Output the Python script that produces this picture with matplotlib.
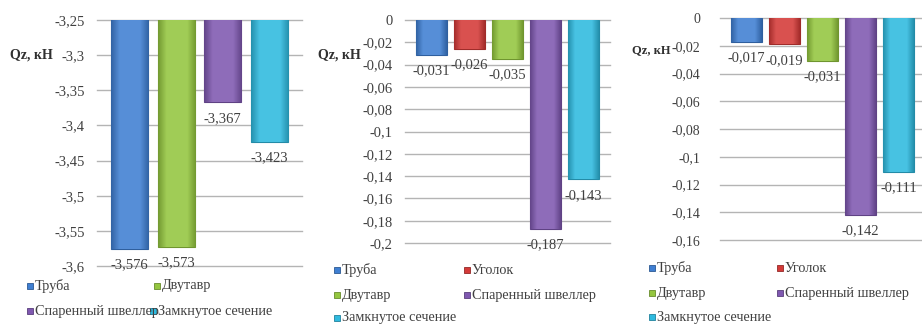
import numpy as np
import matplotlib
matplotlib.use("Agg")
import matplotlib.pyplot as plt
from matplotlib.patches import Rectangle
from matplotlib.colors import to_rgb

plt.rcParams['font.family'] = ['Liberation Serif', 'DejaVu Serif']

# Section types and their colours
names_all = ["Труба", "Уголок", "Двутавр", "Спаренный швеллер", "Замкнутое сечение"]
colors_all = {
    "Труба": "#3f7fd2",
    "Уголок": "#d43a38",
    "Двутавр": "#94c63f",
    "Спаренный швеллер": "#7f58b0",
    "Замкнутое сечение": "#2fbadf",
}

# Panel 1: four sections, shear force Qz (kN)
names1 = ["Труба", "Двутавр", "Спаренный швеллер", "Замкнутое сечение"]
values1 = [-3.576, -3.573, -3.367, -3.423]
ticks1 = [-3.25, -3.3, -3.35, -3.4, -3.45, -3.5, -3.55, -3.6]

# Panel 2: five sections
names2 = names_all
values2 = [-0.031, -0.026, -0.035, -0.187, -0.143]
ticks2 = [0, -0.02, -0.04, -0.06, -0.08, -0.1, -0.12, -0.14, -0.16, -0.18, -0.2]

# Panel 3: five sections
names3 = names_all
values3 = [-0.017, -0.019, -0.031, -0.142, -0.111]
ticks3 = [0, -0.02, -0.04, -0.06, -0.08, -0.1, -0.12, -0.14, -0.16]

W, H = 922, 324
fig = plt.figure(figsize=(W / 100, H / 100), dpi=100)

TXT = "#404040"
GRID = "#b4b4b4"


def px_axes(left, top, right, bottom):
    return fig.add_axes([left / W, 1 - bottom / H, (right - left) / W, (bottom - top) / H])


def shade(c, f):
    r, g, b = to_rgb(c)
    if f >= 0:
        return (r + (1 - r) * f, g + (1 - g) * f, b + (1 - b) * f)
    return (r * (1 + f), g * (1 + f), b * (1 + f))


def fmt(v, nd=None):
    if nd is None:
        s = f"{round(v, 4):g}"
    else:
        s = f"{v:.{nd}f}"
    if s in ("-0", "-0.0"):
        s = "0"
    return s.replace(".", ",")


def draw_panel(ax, names, values, ticks, pad=9, tsize=10.5):
    top = max(ticks)
    bot = min(ticks)
    x = np.arange(len(names))
    bw = 0.8
    for t in ticks:
        ax.axhline(t, color=GRID, lw=1.0, zorder=0, clip_on=False)
    bars = ax.bar(x, np.array(values) - top, bottom=top, width=bw,
                  color=[colors_all[n] for n in names],
                  edgecolor=[shade(colors_all[n], -0.25) for n in names],
                  linewidth=0.8, zorder=2)
    # bevelled look: horizontal gradient clipped to each bar
    grad = np.abs(np.linspace(-1, 1, 64))
    for b, n in zip(bars, names):
        base = colors_all[n]
        light = np.array(shade(base, 0.12))
        dark = np.array(shade(base, -0.22))
        w = np.clip((grad - 0.55) / 0.45, 0, 1)[None, :, None]
        img = light * (1 - w) + dark * w
        x0, y0 = b.get_x(), b.get_y()
        im = ax.imshow(img, extent=[x0, x0 + b.get_width(), y0 + b.get_height(), y0],
                       aspect='auto', zorder=2.5, interpolation='bilinear')
        im.set_clip_path(b)
    ax.set_ylim(bot, top)
    ax.set_xlim(-0.7, len(names) - 0.3)
    for xi, v in zip(x, values):
        ax.annotate(fmt(v, 3), (xi, v), xytext=(0, -11.5), textcoords='offset points',
                    ha='center', va='center', fontsize=10.5, color=TXT, zorder=4)
    ax.set_yticks(ticks)
    ax.set_yticklabels([fmt(t) for t in ticks])
    ax.tick_params(axis='y', length=0, pad=pad, labelsize=tsize, labelcolor=TXT)
    ax.set_xticks([])
    for s in ax.spines.values():
        s.set_visible(False)


def legend_item(name, xpx, ypx):
    base = colors_all[name]
    fig.patches.append(Rectangle(((xpx - 3) / W, 1 - (ypx + 3) / H), 6 / W, 6 / H,
                                 transform=fig.transFigure, facecolor=base,
                                 edgecolor=shade(base, -0.3), linewidth=0.6))
    fig.text((xpx + 5) / W, 1 - ypx / H, name, ha='left', va='center',
             fontsize=10.3, color=TXT)


def qz_label(xpx, ypx, size=10):
    fig.text(xpx / W, 1 - ypx / H, "Qz, кН", ha='left', va='center',
             fontsize=size, fontweight='bold', color="#303030")


ax1 = px_axes(97, 20, 302, 266)
draw_panel(ax1, names1, values1, ticks1)
qz_label(10, 55)

ax2 = px_axes(405, 20, 610, 243)
draw_panel(ax2, names2, values2, ticks2)
qz_label(318, 55)

ax3 = px_axes(720, 18, 925, 240)
draw_panel(ax3, names3, values3, ticks3, pad=14, tsize=10)
qz_label(632, 50, size=9)

# legends
legend_item("Труба", 30, 286)
legend_item("Двутавр", 157, 286)
legend_item("Спаренный швеллер", 30, 311)
legend_item("Замкнутое сечение", 153, 311)

legend_item("Труба", 337, 270)
legend_item("Уголок", 467, 270)
legend_item("Двутавр", 337, 295)
legend_item("Спаренный швеллер", 467, 295)
legend_item("Замкнутое сечение", 337, 318)

legend_item("Труба", 652, 268)
legend_item("Уголок", 780, 268)
legend_item("Двутавр", 652, 293)
legend_item("Спаренный швеллер", 780, 293)
legend_item("Замкнутое сечение", 652, 317)

fig.savefig("out.png", dpi=100, facecolor="white")
